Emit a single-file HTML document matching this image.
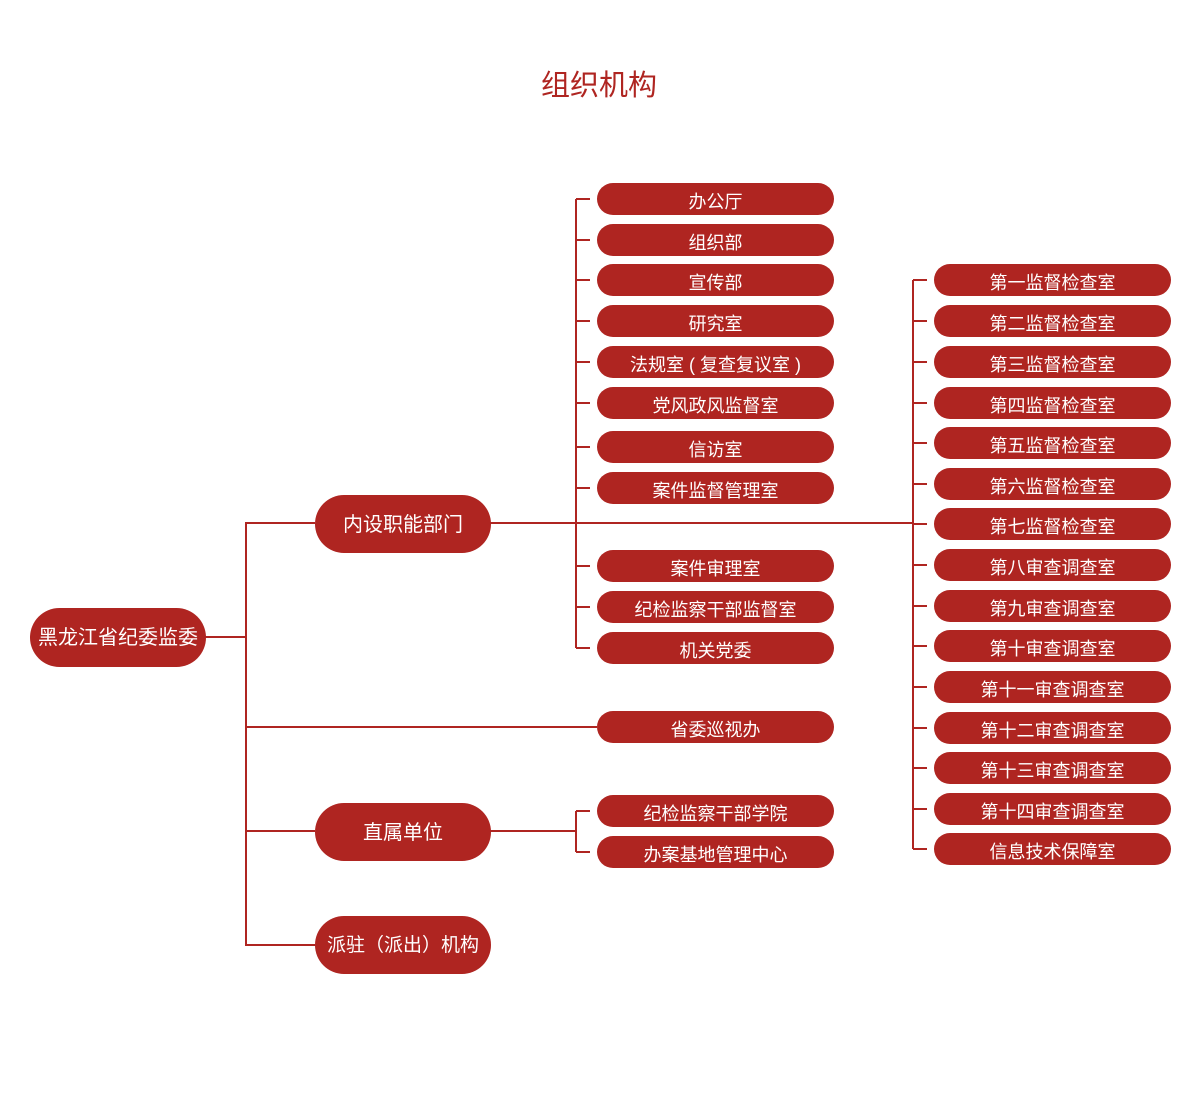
<!DOCTYPE html>
<html><head><meta charset="utf-8"><style>
body{margin:0;width:1200px;height:1100px;background:#fff;position:relative;overflow:hidden;font-family:"Liberation Sans","Noto Sans CJK SC",sans-serif;}
.p{position:absolute;background:#af2521;color:#fff;text-align:center;border-radius:999px;white-space:nowrap;box-sizing:border-box;}
.m{left:597px;width:237px;height:32px;line-height:32px;padding-top:3px;font-size:18px;}
.r{left:934px;width:237px;height:32px;line-height:32px;padding-top:3px;font-size:18px;}
.l{left:315px;width:176px;height:58px;line-height:58px;padding-top:1px;font-size:20px;}
h1{position:absolute;left:0;width:1198px;top:62px;margin:0;text-align:center;font-weight:normal;font-size:29px;color:#af2521;}
svg{position:absolute;left:0;top:0}
</style></head><body>
<h1>组织机构</h1>
<svg width="1200" height="1100" stroke="#af2521" stroke-width="2" fill="none">
<path d="M246 522V946M205 637H246M246 523H315M246 831H315M246 945H315M246 727H597"/>
<path d="M490 523H913M576 199V648M490 831H576M576 811V852"/>
<path d="M576 199H590M576 240H590M576 280H590M576 321H590M576 362H590M576 403H590M576 447H590M576 488H590M576 566H590M576 607H590M576 648H590M576 811H590M576 852H590"/>
<path d="M913 280V849M913 280H927M913 321H927M913 362H927M913 403H927M913 443H927M913 484H927M913 524H927M913 565H927M913 606H927M913 646H927M913 687H927M913 728H927M913 768H927M913 809H927M913 849H927"/>
</svg>
<div class="p" style="left:30px;top:608px;width:176px;height:59px;line-height:59px;padding-top:1px;font-size:20px">黑龙江省纪委监委</div>
<div class="p l" style="top:495px">内设职能部门</div>
<div class="p l" style="top:803px">直属单位</div>
<div class="p l" style="top:916px;font-size:19px">派驻（派出）机构</div>
<div class="p m" style="top:183px">办公厅</div>
<div class="p m" style="top:224px">组织部</div>
<div class="p m" style="top:264px">宣传部</div>
<div class="p m" style="top:305px">研究室</div>
<div class="p m" style="top:346px">法规室 ( 复查复议室 )</div>
<div class="p m" style="top:387px">党风政风监督室</div>
<div class="p m" style="top:431px">信访室</div>
<div class="p m" style="top:472px">案件监督管理室</div>
<div class="p m" style="top:550px">案件审理室</div>
<div class="p m" style="top:591px">纪检监察干部监督室</div>
<div class="p m" style="top:632px">机关党委</div>
<div class="p m" style="top:711px">省委巡视办</div>
<div class="p m" style="top:795px">纪检监察干部学院</div>
<div class="p m" style="top:836px">办案基地管理中心</div>
<div class="p r" style="top:264px">第一监督检查室</div>
<div class="p r" style="top:305px">第二监督检查室</div>
<div class="p r" style="top:346px">第三监督检查室</div>
<div class="p r" style="top:387px">第四监督检查室</div>
<div class="p r" style="top:427px">第五监督检查室</div>
<div class="p r" style="top:468px">第六监督检查室</div>
<div class="p r" style="top:508px">第七监督检查室</div>
<div class="p r" style="top:549px">第八审查调查室</div>
<div class="p r" style="top:590px">第九审查调查室</div>
<div class="p r" style="top:630px">第十审查调查室</div>
<div class="p r" style="top:671px">第十一审查调查室</div>
<div class="p r" style="top:712px">第十二审查调查室</div>
<div class="p r" style="top:752px">第十三审查调查室</div>
<div class="p r" style="top:793px">第十四审查调查室</div>
<div class="p r" style="top:833px">信息技术保障室</div>
</body></html>
